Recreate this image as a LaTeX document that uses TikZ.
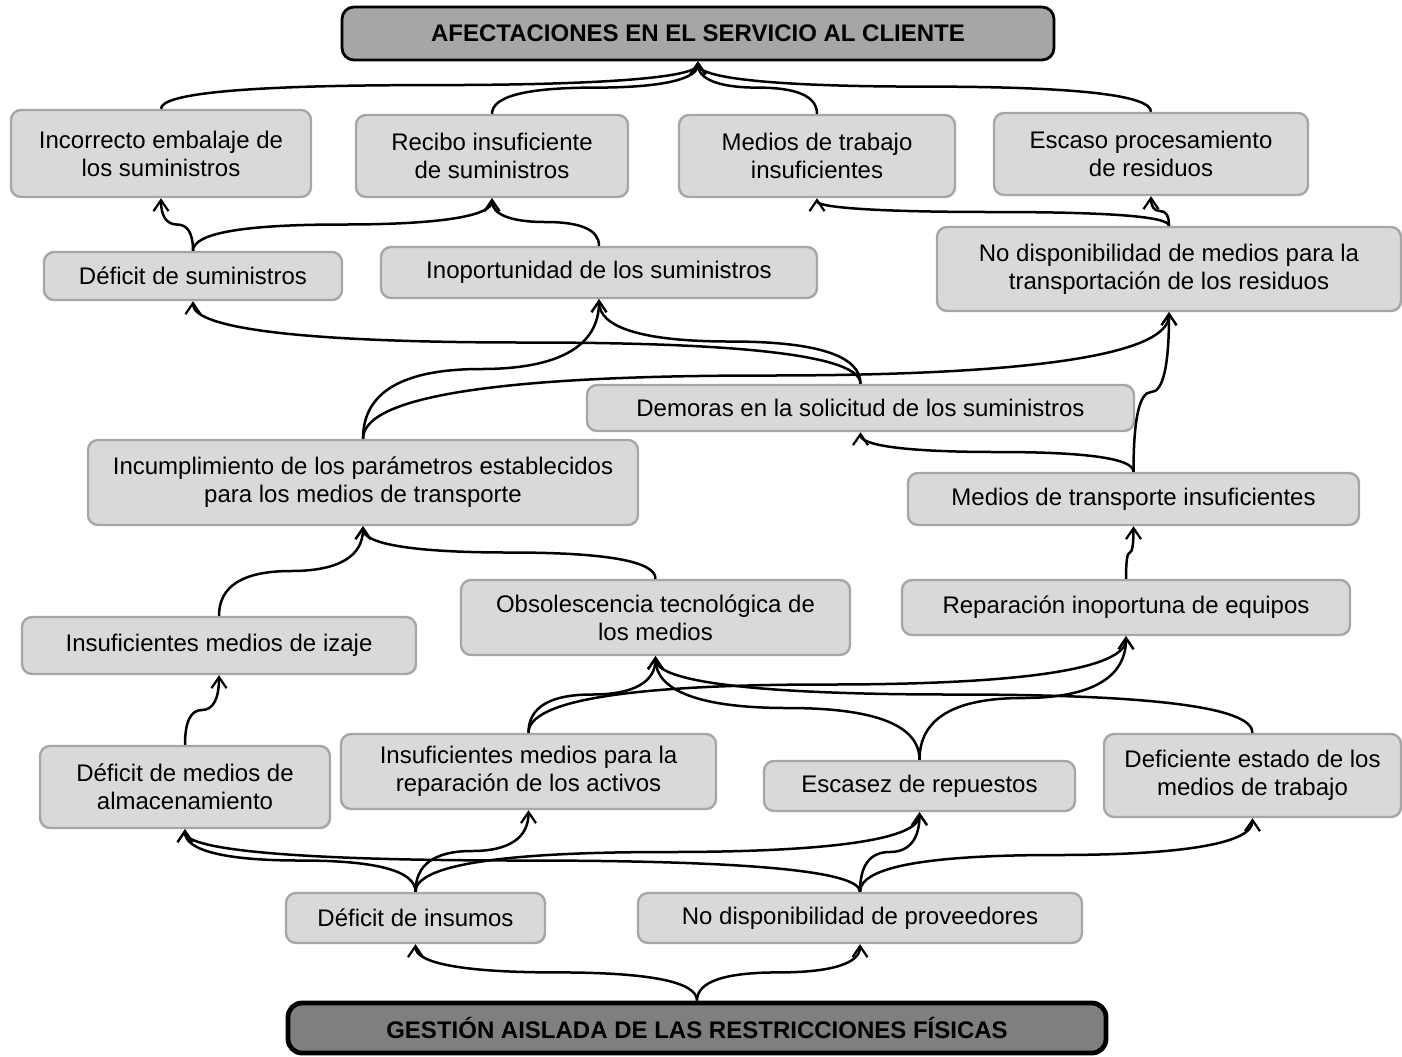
\documentclass[tikz,border=0pt]{standalone}
\usepackage{fontspec}
\setmainfont{Liberation Sans}
\usetikzlibrary{calc,arrows.meta}
\definecolor{boxfill}{HTML}{D9D9D9}
\definecolor{boxline}{HTML}{A6A6A6}
\definecolor{topfill}{HTML}{A6A6A6}
\definecolor{botfill}{HTML}{7F7F7F}
\tikzset{
  box/.style={draw=boxline, fill=boxfill, line width=1.2pt, rounded corners=5pt,
    inner sep=0pt, align=center, font=\fontsize{12}{14}\selectfont},
  topbox/.style={draw=black, fill=topfill, line width=1.4pt, rounded corners=6pt,
    inner sep=0pt, align=center, font=\fontsize{12}{14}\selectfont\bfseries},
  botbox/.style={draw=black, fill=botfill, line width=2.4pt, rounded corners=7pt,
    inner sep=0pt, align=center, font=\fontsize{12}{14}\selectfont\bfseries},
  arr/.style={line width=1.25pt, -{Straight Barb[length=5.5pt,width=7.5pt,line width=1.1pt]}}
}
\newcommand\linkto[2]{%
  \path (#1.north) coordinate (cA) (#2.south) coordinate (cB);
  \path ($(cA)!0.5!(cB)$) coordinate (cM);
  \path (cA |- cM) coordinate (cCa) (cB |- cM) coordinate (cCb);
  \draw[arr] (cA) .. controls ($(cA)!0.6667!(cCa)$) and ($(cM)!0.6667!(cCa)$) .. (cM)
    .. controls ($(cM)!0.6667!(cCb)$) and ($(cB)!0.6667!(cCb)$) .. (cB);
}
\begin{document}
\begin{tikzpicture}[x=0.5pt,y=-0.5pt]
\path[use as bounding box] (0,0) rectangle (1402,1056);
\clip (0,0) rectangle (1402,1056);

% nodes
\node[topbox, minimum width=356pt, minimum height=26.5pt] (top) at (698,33.5) {AFECTACIONES EN EL SERVICIO AL CLIENTE};

\node[box, minimum width=150pt, minimum height=43.5pt] (n1) at (161,153.5) {Incorrecto embalaje de\\los suministros};
\node[box, minimum width=136pt, minimum height=41pt] (n2) at (492,156) {Recibo insuficiente\\de suministros};
\node[box, minimum width=138pt, minimum height=41pt] (n3) at (817,156) {Medios de trabajo\\insuficientes};
\node[box, minimum width=157pt, minimum height=41pt] (n4) at (1151,154) {Escaso procesamiento\\de residuos};

\node[box, minimum width=149pt, minimum height=24pt] (n5) at (193,276) {Déficit de suministros};
\node[box, minimum width=218pt, minimum height=25.5pt] (n6) at (599,272.5) {Inoportunidad de los suministros};
\node[box, minimum width=232pt, minimum height=42pt] (n7) at (1169,269) {No disponibilidad de medios para la\\transportación de los residuos};

\node[box, minimum width=273.5pt, minimum height=23pt] (n8) at (860.5,408) {Demoras en la solicitud de los suministros};
\node[box, minimum width=275pt, minimum height=42.5pt] (n9) at (363,482.5) {Incumplimiento de los parámetros establecidos\\para los medios de transporte};
\node[box, minimum width=225.5pt, minimum height=26pt] (n10) at (1133.5,499) {Medios de transporte insuficientes};

\node[box, minimum width=194.5pt, minimum height=37.5pt] (n11) at (655.5,617.5) {Obsolescencia tecnológica de\\los medios};
\node[box, minimum width=224pt, minimum height=27.5pt] (n12) at (1126,607.5) {Reparación inoportuna de equipos};
\node[box, minimum width=197pt, minimum height=28.5pt] (n13) at (219,645.5) {Insuficientes medios de izaje};

\node[box, minimum width=145pt, minimum height=41pt] (n14) at (185,787) {Déficit de medios de\\almacenamiento};
\node[box, minimum width=187.5pt, minimum height=37.5pt] (n15) at (528.5,771.5) {Insuficientes medios para la\\reparación de los activos};
\node[box, minimum width=155.5pt, minimum height=25pt] (n16) at (919.5,786) {Escasez de repuestos};
\node[box, minimum width=148.5pt, minimum height=41.5pt] (n17) at (1252.5,775.5) {Deficiente estado de los\\medios de trabajo};

\node[box, minimum width=129.5pt, minimum height=25pt] (n18) at (415.5,918) {Déficit de insumos};
\node[box, minimum width=222pt, minimum height=25pt] (n19) at (860,918) {No disponibilidad de proveedores};

\node[botbox, minimum width=409pt, minimum height=25pt] (bot) at (697,1028) {GESTIÓN AISLADA DE LAS RESTRICCIONES FÍSICAS};

% connectors
\linkto{n1}{top}
\linkto{n2}{top}
\linkto{n3}{top}
\linkto{n4}{top}
\linkto{n5}{n1}
\linkto{n5}{n2}
\linkto{n6}{n2}
\linkto{n7}{n3}
\linkto{n7}{n4}
\linkto{n8}{n5}
\linkto{n8}{n6}
\linkto{n9}{n6}
\linkto{n9}{n7}
\linkto{n10}{n8}
\linkto{n10}{n7}
\linkto{n11}{n9}
\linkto{n13}{n9}
\linkto{n12}{n10}
\linkto{n14}{n13}
\linkto{n15}{n11}
\linkto{n15}{n12}
\linkto{n16}{n11}
\linkto{n16}{n12}
\linkto{n17}{n11}
\linkto{n18}{n14}
\linkto{n18}{n15}
\linkto{n18}{n16}
\linkto{n19}{n14}
\linkto{n19}{n16}
\linkto{n19}{n17}
\linkto{bot}{n18}
\linkto{bot}{n19}
\end{tikzpicture}
\end{document}
